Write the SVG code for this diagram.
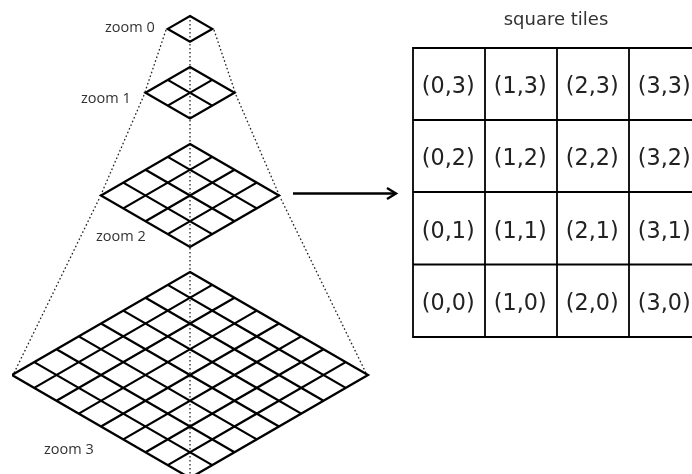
<svg xmlns="http://www.w3.org/2000/svg" width="692" height="474" viewBox="0 0 692 474">
<style>
.g{fill:none;stroke:#000;stroke-width:2.3;stroke-linejoin:miter}
.d{fill:none;stroke:#222;stroke-width:1.3;stroke-dasharray:1.6 2.4}
.c{fill:none;stroke:#000;stroke-width:1.8}
.z{font-family:"Open Sans",sans-serif;font-size:14.500px;fill:#333}
.t{font-family:"DejaVu Sans",sans-serif;font-size:22.3px;fill:#222;text-anchor:middle}
.h{font-family:"DejaVu Sans",sans-serif;font-size:18px;fill:#333;text-anchor:middle}
</style>
<defs>
<marker id="ah" markerUnits="userSpaceOnUse" markerWidth="16" markerHeight="16" refX="13" refY="8" orient="auto"><path d="M4 2.500L13 8L4 13.500" fill="none" stroke="#000" stroke-width="2.4"/></marker>
<filter id="soft" x="0" y="0" width="100%" height="100%"><feGaussianBlur stdDeviation="0.4"/></filter>
</defs>
<rect width="692" height="474" fill="#fff"/>
<g filter="url(#soft)">
<g id="connectors">
<path class="d" d="M190 16V474"/>
<path class="d" d="M166 30L145 92M144 95L100 197M99 199L14 373"/>
<path class="d" d="M214 30L235 92M236 95L280 197M281 199L366 373"/>
<path d="M293 193.500H396" fill="none" stroke="#000" stroke-width="2.4" marker-end="url(#ah)"/>
</g>
<g id="zoom0">
<path class="g" d="M190 16L212.25 28.875L190 41.75L167.75 28.875Z"/>
<text class="z" x="105" y="32">zoom 0</text>
</g>
<g id="zoom1">
<path class="g" d="M190 67L234.5 92.75L190 118.5L145.5 92.75ZM167.75 79.875L212.25 105.625M212.25 79.875L167.75 105.625"/>
<text class="z" x="81" y="103">zoom 1</text>
</g>
<g id="zoom2">
<path class="g" d="M190 144L279 195.5L190 247L101 195.5ZM167.75 156.875L256.75 208.375M145.5 169.75L234.5 221.25M123.25 182.625L212.25 234.125M212.25 156.875L123.25 208.375M234.5 169.75L145.5 221.25M256.75 182.625L167.75 234.125"/>
<text class="z" x="96" y="241">zoom 2</text>
</g>
<g id="zoom3">
<path class="g" d="M190 272L368 375L190 478L12 375ZM167.75 284.875L345.75 387.875M145.5 297.75L323.5 400.75M123.25 310.625L301.25 413.625M101 323.5L279 426.5M78.75 336.375L256.75 439.375M56.5 349.25L234.5 452.25M34.25 362.125L212.25 465.125M212.25 284.875L34.25 387.875M234.5 297.75L56.5 400.75M256.75 310.625L78.75 413.625M279 323.5L101 426.5M301.25 336.375L123.25 439.375M323.5 349.25L145.5 452.25M345.75 362.125L167.75 465.125"/>
<text class="z" x="44" y="454">zoom 3</text>
</g>
<g id="tiles">
<text class="h" x="556" y="25">square tiles</text>
<path class="c" d="M692 48H413V337H692M692 120H413M692 192H413M692 264.500H413M485 48V337M557 48V337M629 48V337"/>
<text class="t" x="448.300" y="93">(0,3)</text><text class="t" x="520.300" y="93">(1,3)</text><text class="t" x="592.300" y="93">(2,3)</text><text class="t" x="664.300" y="93">(3,3)</text>
<text class="t" x="448.300" y="165">(0,2)</text><text class="t" x="520.300" y="165">(1,2)</text><text class="t" x="592.300" y="165">(2,2)</text><text class="t" x="664.300" y="165">(3,2)</text>
<text class="t" x="448.300" y="237.500">(0,1)</text><text class="t" x="520.300" y="237.500">(1,1)</text><text class="t" x="592.300" y="237.500">(2,1)</text><text class="t" x="664.300" y="237.500">(3,1)</text>
<text class="t" x="448.300" y="309.500">(0,0)</text><text class="t" x="520.300" y="309.500">(1,0)</text><text class="t" x="592.300" y="309.500">(2,0)</text><text class="t" x="664.300" y="309.500">(3,0)</text>
</g>
</g>
</svg>
